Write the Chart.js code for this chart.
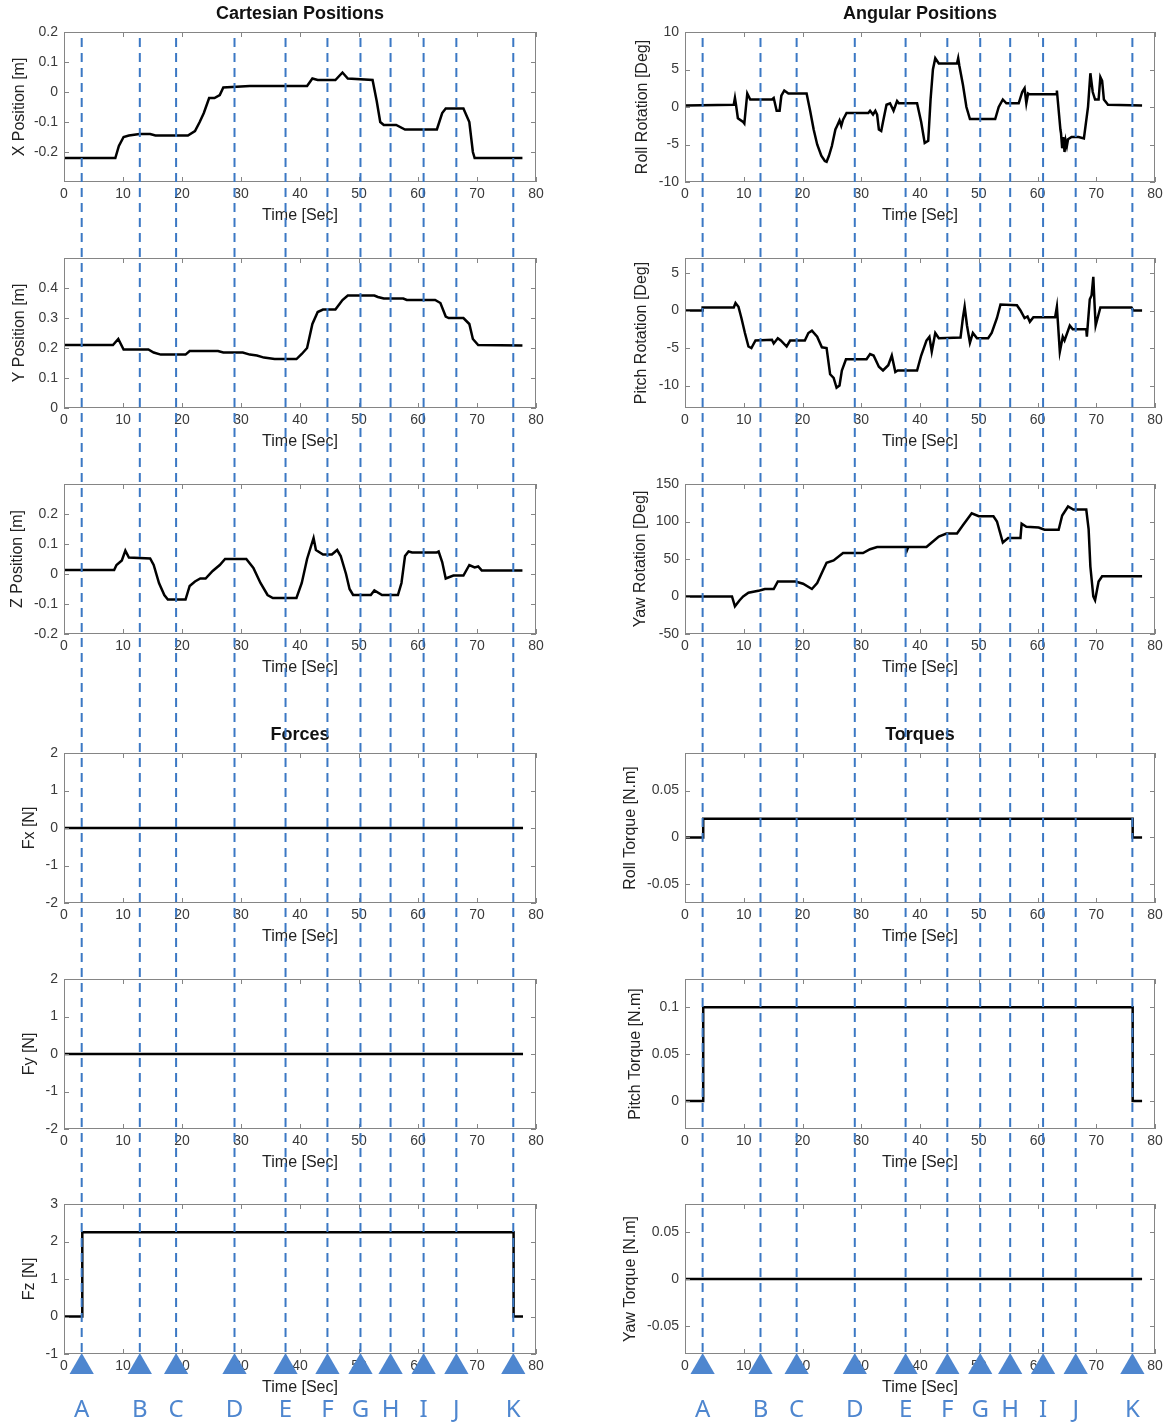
<!DOCTYPE html>
<html>
<head>
<meta charset="utf-8">
<script src="https://cdn.jsdelivr.net/npm/chart.js@4.4.1/dist/chart.umd.min.js"></script>
<style>
  body { margin: 0; background: #fff; }
  #fig { position: relative; width: 1169px; height: 1428px; overflow: hidden; }
  #fig canvas { position: absolute; }
</style>
</head>
<body>
<div id="fig"></div>
<script>
// event markers (time in s)
const markerTimes = [3.0, 12.85, 19.0, 28.9, 37.55, 44.65, 50.25, 55.35, 60.95, 66.5, 76.15];
const markerLabels = ['A', 'B', 'C', 'D', 'E', 'F', 'G', 'H', 'I', 'J', 'K'];

const xTicks = [0, 10, 20, 30, 40, 50, 60, 70, 80];

// [time, value] pairs
const xPosition = [[0,-0.22],[8.7,-0.22],[9.3,-0.18],[10.1,-0.15],[11.0,-0.145],[12.8,-0.14],[14.6,-0.14],[15.5,-0.145],
  [21.0,-0.145],[22.2,-0.13],[23.0,-0.1],[23.7,-0.07],[24.6,-0.02],[25.5,-0.02],[26.4,-0.01],[27.0,0.015],[31.5,0.02],
  [41.2,0.02],[42.1,0.045],[43.0,0.04],[46.0,0.04],[47.2,0.065],[48.1,0.045],[52.3,0.04],[53.0,-0.03],[53.6,-0.1],
  [54.2,-0.11],[56.3,-0.11],[57.8,-0.125],[63.2,-0.125],[64.1,-0.07],[64.7,-0.055],[67.7,-0.055],[68.7,-0.1],
  [69.3,-0.2],[69.6,-0.22],[77.7,-0.22]];

const yPosition = [[0,0.21],[8.3,0.21],[9.2,0.23],[10.1,0.195],[14.3,0.195],[15.2,0.185],[16.4,0.178],[20.6,0.178],
  [21.3,0.19],[26.1,0.19],[27,0.185],[30.3,0.185],[31.5,0.178],[32.7,0.175],[33.9,0.168],[35.7,0.163],[39.4,0.163],
  [40.3,0.18],[41.2,0.2],[42.1,0.28],[43,0.32],[43.9,0.328],[46,0.328],[47.2,0.36],[48.1,0.375],[52.6,0.375],
  [53.2,0.37],[54.2,0.365],[57.5,0.365],[58.1,0.36],[62.9,0.36],[63.8,0.35],[64.7,0.305],[65.2,0.3],[67.7,0.3],
  [68.7,0.28],[69.3,0.23],[70.2,0.21],[77.7,0.208]];

const zPosition = [[0,0.013],[8.5,0.013],[8.9,0.03],[9.8,0.045],[10.4,0.078],[11,0.055],[14.6,0.052],[15.2,0.03],
  [16.1,-0.03],[17,-0.07],[17.6,-0.085],[20.6,-0.085],[21.3,-0.04],[22.2,-0.025],[23.1,-0.015],[24,-0.015],
  [25.2,0.01],[26.4,0.03],[27.3,0.05],[30.9,0.05],[32.1,0.02],[33.3,-0.03],[34.5,-0.07],[35.4,-0.08],[39.4,-0.08],
  [40.3,-0.03],[41.2,0.05],[42.3,0.12],[42.7,0.08],[43.9,0.065],[45.4,0.065],[46.3,0.08],[46.9,0.06],[47.8,0],
  [48.4,-0.05],[49,-0.07],[52,-0.07],[52.6,-0.055],[53.9,-0.07],[56.6,-0.07],[57.2,-0.03],[57.8,0.06],[58.4,0.075],
  [59,0.072],[63.2,0.072],[63.5,0.075],[64.1,0.04],[64.7,-0.015],[66,-0.005],[67.7,-0.005],[68.7,0.03],
  [69.6,0.022],[70.2,0.025],[70.8,0.012],[77.7,0.012]];

const rollRotation = [[0,0.2],[8.3,0.3],[8.5,1.2],[8.7,0.2],[9.0,-1.5],[9.9,-2.0],[10.1,-2.2],[10.6,1.8],[11.1,1.0],
  [14.8,1.0],[15.1,1.2],[15.6,-0.5],[16.1,-0.5],[16.4,1.5],[16.9,2.2],[17.6,1.8],[20.7,1.8],[21.3,-0.5],[21.9,-3],
  [22.5,-5],[23.2,-6.5],[23.8,-7.2],[24.1,-7.3],[24.5,-6.5],[25.0,-5.2],[25.6,-3],[25.9,-2.5],[26.3,-1.8],
  [26.6,-2.5],[26.9,-1.7],[27.5,-0.8],[31.2,-0.8],[31.5,-0.5],[32.0,-1.0],[32.4,-0.5],[32.7,-1.0],[33.0,-3.0],
  [33.4,-3.2],[33.7,-2.0],[34.3,0.3],[34.9,0.5],[35.5,-0.5],[36.1,0.8],[36.4,0.5],[39.5,0.5],[40.2,-2],[40.8,-4.8],
  [41.4,-4.5],[41.8,1],[42.2,5],[42.6,6.5],[43.2,5.8],[46.3,5.8],[46.5,6.5],[46.7,5.5],[47.3,3],[47.9,0],[48.5,-1.6],
  [52.8,-1.6],[53.4,0],[54.1,1],[54.7,0.5],[56.8,0.5],[57.4,2],[57.8,2.5],[58.1,0.5],[58.4,1.8],[58.6,1.7],[63.2,1.7],
  [63.3,2.2],[63.9,-3],[64.0,-3.5],[64.2,-5.5],[64.4,-4],[64.6,-6],[64.8,-4.5],[65.0,-5.2],[65.2,-4.3],[65.8,-4],
  [67,-4],[67.9,-4.2],[68.6,0],[69,4.5],[69.4,2],[69.8,1],[70.4,1],[70.7,4],[71,3.5],[71.3,1],[72,0.3],[77.8,0.2]];

const pitchRotation = [[0,0],[3.0,0],[3.0,0.4],[8.3,0.4],[8.6,1.0],[9.1,0.5],[9.6,-1],[10.2,-3],[10.8,-4.8],[11.3,-5],
  [12,-4],[14.8,-3.9],[15.1,-4.4],[15.8,-3.7],[16.3,-4],[17.3,-4.8],[17.9,-4],[20.4,-4],[21,-3],[21.6,-2.7],
  [22.5,-3.5],[23.3,-4.9],[24.1,-5],[24.7,-8.5],[25.3,-9],[25.8,-10.3],[26.3,-10],[26.7,-8],[27.4,-6.5],[30.9,-6.5],
  [31.5,-5.8],[32.1,-6],[33,-7.5],[33.7,-8],[34.6,-7.3],[35.2,-6],[35.8,-8.2],[36.2,-8],[39.5,-8],[40.2,-6],
  [41.1,-4],[41.6,-3.5],[42,-5.5],[42.6,-3],[43.2,-3.7],[46.9,-3.6],[47.3,-1],[47.6,0.5],[48,-2],[48.5,-4.3],
  [49,-3],[49.7,-3.7],[51.6,-3.7],[52.2,-3],[53.1,-1],[53.7,0.8],[56.5,0.7],[57.1,0],[57.8,-1],[58.3,-0.8],
  [58.7,-1.5],[59.3,-0.9],[63,-0.9],[63.3,0.5],[63.8,-5.5],[64.3,-3.5],[64.6,-4],[65.5,-2],[66,-2.5],[68.3,-2.5],
  [68.4,-3.5],[68.9,1.5],[69.2,2],[69.5,4.5],[69.7,1],[69.9,-2],[70.7,0.4],[76,0.4],[76.3,0],[77.8,0]];

const yawRotation = [[0,0],[8,0],[8.5,-13],[9.3,-5],[9.9,0],[10.8,5],[12.7,8],[13.6,10],[15.1,10],[15.8,20],[18.8,20],
  [20.1,17],[21.6,10],[22.5,18],[23.5,35],[24.1,45],[25.3,48],[26.9,58],[30.3,58],[31.5,63],[32.7,66],[37.7,66],
  [37.8,62],[38,66],[41.1,66],[42,72],[43.2,80],[44.5,84],[46.3,84],[47.3,95],[48.8,111],[50,107],[52.5,107],
  [53.1,100],[54.1,72],[55,78],[57.1,78],[57.3,97],[58.1,93],[60.2,92],[61.2,89],[63.6,89],[64.2,108],[65.2,120],
  [66.1,116],[68.3,116],[68.7,90],[69,40],[69.5,0],[69.8,-5],[70.4,20],[71,27],[77.8,27]];

const forceX = [[0,0],[77.8,0]];
const forceY = [[0,0],[77.8,0]];
const forceZ = [[0,0],[3.1,0],[3.1,2.25],[76.2,2.25],[76.2,0],[77.8,0]];
const rollTorque = [[0,0],[3.1,0],[3.1,0.02],[76.2,0.02],[76.2,0],[77.8,0]];
const pitchTorque = [[0,0],[3.1,0],[3.1,0.1],[76.2,0.1],[76.2,0],[77.8,0]];
const yawTorque = [[0,0],[77.8,0]];

// layout
const LINE_FONT = '"Liberation Sans", Arial, sans-serif';
const MARK_COLOR = '#4E86CF';
const DASH_COLOR = '#3B78C4';
const columns = [{ plotLeft: 64, plotRight: 536 }, { plotLeft: 685, plotRight: 1155 }];
const rowTops = [32, 258, 484, 753, 979, 1204];
const PLOT_H = 150, AXIS_W = 64, XAXIS_H = 46, PAD_TOP = 30;

const panels = [
  { col: 0, row: 0, data: xPosition, label: 'X Position [m]', min: -0.3, max: 0.2, yTicks: [-0.2,-0.1,0,0.1,0.2], labelX: 19.6, title: 'Cartesian Positions' },
  { col: 0, row: 1, data: yPosition, label: 'Y Position [m]', min: 0, max: 0.5, yTicks: [0,0.1,0.2,0.3,0.4], labelX: 19.6 },
  { col: 0, row: 2, data: zPosition, label: 'Z Position [m]', min: -0.2, max: 0.3, yTicks: [-0.2,-0.1,0,0.1,0.2], labelX: 18 },
  { col: 0, row: 3, data: forceX, label: 'Fx [N]', min: -2, max: 2, yTicks: [-2,-1,0,1,2], labelX: 30, title: 'Forces' },
  { col: 0, row: 4, data: forceY, label: 'Fy [N]', min: -2, max: 2, yTicks: [-2,-1,0,1,2], labelX: 30 },
  { col: 0, row: 5, data: forceZ, label: 'Fz [N]', min: -1, max: 3, yTicks: [-1,0,1,2,3], labelX: 30 },
  { col: 1, row: 0, data: rollRotation, label: 'Roll Rotation [Deg]', min: -10, max: 10, yTicks: [-10,-5,0,5,10], labelX: 643, title: 'Angular Positions' },
  { col: 1, row: 1, data: pitchRotation, label: 'Pitch Rotation [Deg]', min: -13, max: 7, yTicks: [-10,-5,0,5], labelX: 642 },
  { col: 1, row: 2, data: yawRotation, label: 'Yaw Rotation [Deg]', min: -50, max: 150, yTicks: [-50,0,50,100,150], labelX: 641 },
  { col: 1, row: 3, data: rollTorque, label: 'Roll Torque [N.m]', min: -0.07, max: 0.09, yTicks: [-0.05,0,0.05], labelX: 630, title: 'Torques' },
  { col: 1, row: 4, data: pitchTorque, label: 'Pitch Torque [N.m]', min: -0.03, max: 0.13, yTicks: [0,0.05,0.1], labelX: 636 },
  { col: 1, row: 5, data: yawTorque, label: 'Yaw Torque [N.m]', min: -0.08, max: 0.08, yTicks: [-0.05,0,0.05], labelX: 630 },
];

const fig = document.getElementById('fig');

function makeCanvas(left, top, width, height, z) {
  const c = document.createElement('canvas');
  c.width = width;
  c.height = height;
  c.style.left = left + 'px';
  c.style.top = top + 'px';
  c.style.zIndex = z;
  fig.appendChild(c);
  return c;
}

// matlab-like box with inward ticks, plus optional title
const framePlugin = {
  id: 'frame',
  afterDatasetsDraw(chart, args, opts) {
    const { ctx, chartArea: a, scales: { x, y } } = chart;
    ctx.save();
    ctx.strokeStyle = '#858585';
    ctx.lineWidth = 1;
    ctx.strokeRect(a.left + 0.5, a.top + 0.5, a.width - 1, a.height - 1);
    ctx.beginPath();
    x.ticks.forEach(t => {
      const px = Math.round(x.getPixelForValue(t.value)) + 0.5;
      ctx.moveTo(px, a.bottom); ctx.lineTo(px, a.bottom - 5);
      ctx.moveTo(px, a.top); ctx.lineTo(px, a.top + 5);
    });
    y.ticks.forEach(t => {
      const py = Math.round(y.getPixelForValue(t.value)) + 0.5;
      ctx.moveTo(a.left, py); ctx.lineTo(a.left + 5, py);
      ctx.moveTo(a.right, py); ctx.lineTo(a.right - 5, py);
    });
    ctx.stroke();
    if (opts.title) {
      ctx.font = 'bold 18px ' + LINE_FONT;
      ctx.fillStyle = '#111';
      ctx.textAlign = 'center';
      ctx.textBaseline = 'middle';
      ctx.fillText(opts.title, (a.left + a.right) / 2, a.top - 18);
    }
    ctx.restore();
  }
};

panels.forEach(p => {
  const col = columns[p.col];
  const canvasLeft = col.plotLeft - AXIS_W;
  const canvasTop = rowTops[p.row] - PAD_TOP;
  const width = col.plotRight - canvasLeft + 14;
  const height = PAD_TOP + PLOT_H + XAXIS_H;
  const canvas = makeCanvas(canvasLeft, canvasTop, width, height, 1);

  new Chart(canvas, {
    type: 'line',
    data: {
      datasets: [{
        data: p.data.map(([t, v]) => ({ x: t, y: v })),
        borderColor: '#000',
        borderWidth: 2.5,
        pointRadius: 0,
        tension: 0,
        fill: false,
      }],
    },
    options: {
      responsive: false,
      animation: false,
      events: [],
      layout: { padding: { left: 0, right: 14, top: PAD_TOP, bottom: 0 } },
      scales: {
        x: {
          type: 'linear',
          min: 0,
          max: 80,
          afterBuildTicks: s => { s.ticks = xTicks.map(v => ({ value: v })); },
          afterFit: s => { s.height = XAXIS_H; },
          grid: { display: false, drawTicks: false },
          border: { display: false },
          ticks: { font: { family: LINE_FONT, size: 14 }, color: '#3a3a3a', padding: 4, maxRotation: 0, autoSkip: false },
          title: { display: true, text: 'Time [Sec]', font: { family: LINE_FONT, size: 16 }, color: '#222', padding: { top: 0, bottom: 2.4 } },
        },
        y: {
          type: 'linear',
          min: p.min,
          max: p.max,
          afterBuildTicks: s => { s.ticks = p.yTicks.map(v => ({ value: v })); },
          afterFit: s => { s.width = AXIS_W; },
          grid: { display: false, drawTicks: false },
          border: { display: false },
          ticks: {
            font: { family: LINE_FONT, size: 14 },
            color: '#3a3a3a',
            padding: 6,
            callback: v => String(+Number(v).toFixed(3)),
          },
          title: {
            display: true,
            text: p.label,
            font: { family: LINE_FONT, size: 16 },
            color: '#222',
            padding: { top: Math.max(0, p.labelX - canvasLeft - 9.6), bottom: 0 },
          },
        },
      },
      plugins: {
        legend: { display: false },
        tooltip: { enabled: false },
        frame: { title: p.title || '' },
      },
    },
    plugins: [framePlugin],
  });
});

// dashed event lines, triangles and letters across each column
const letterPlugin = {
  id: 'letters',
  afterDatasetsDraw(chart) {
    const { ctx, chartArea: a, scales: { x } } = chart;
    ctx.save();
    ctx.font = '24px "Noto Sans", sans-serif';
    ctx.fillStyle = MARK_COLOR;
    ctx.textAlign = 'center';
    ctx.textBaseline = 'middle';
    markerTimes.forEach((t, i) => ctx.fillText(markerLabels[i], x.getPixelForValue(t), a.bottom + 43));
    ctx.restore();
  }
};

columns.forEach(col => {
  const canvasLeft = col.plotLeft - AXIS_W;
  const width = col.plotRight - canvasLeft + 14;
  const canvas = makeCanvas(canvasLeft, 0, width, 1428, 2);
  const lineSets = markerTimes.map(t => ({
    type: 'line',
    data: [{ x: t, y: 0 }, { x: t, y: 1 }],
    borderColor: DASH_COLOR,
    borderWidth: 2,
    borderDash: [9, 6],
    pointRadius: 0,
  }));
  new Chart(canvas, {
    type: 'line',
    data: {
      datasets: [{
        type: 'scatter',
        data: markerTimes.map(t => ({ x: t, y: 0 })),
        pointStyle: 'triangle',
        pointRadius: 14,
        backgroundColor: MARK_COLOR,
        borderWidth: 0,
        clip: false,
      }, ...lineSets],
    },
    options: {
      responsive: false,
      animation: false,
      events: [],
      layout: { padding: { left: AXIS_W, right: 14, top: 32, bottom: 1428 - 1367 } },
      scales: {
        x: { type: 'linear', min: 0, max: 80, display: false },
        y: { type: 'linear', min: 0, max: 1, display: false },
      },
      plugins: { legend: { display: false }, tooltip: { enabled: false } },
    },
    plugins: [letterPlugin],
  });
});
</script>
</body>
</html>
